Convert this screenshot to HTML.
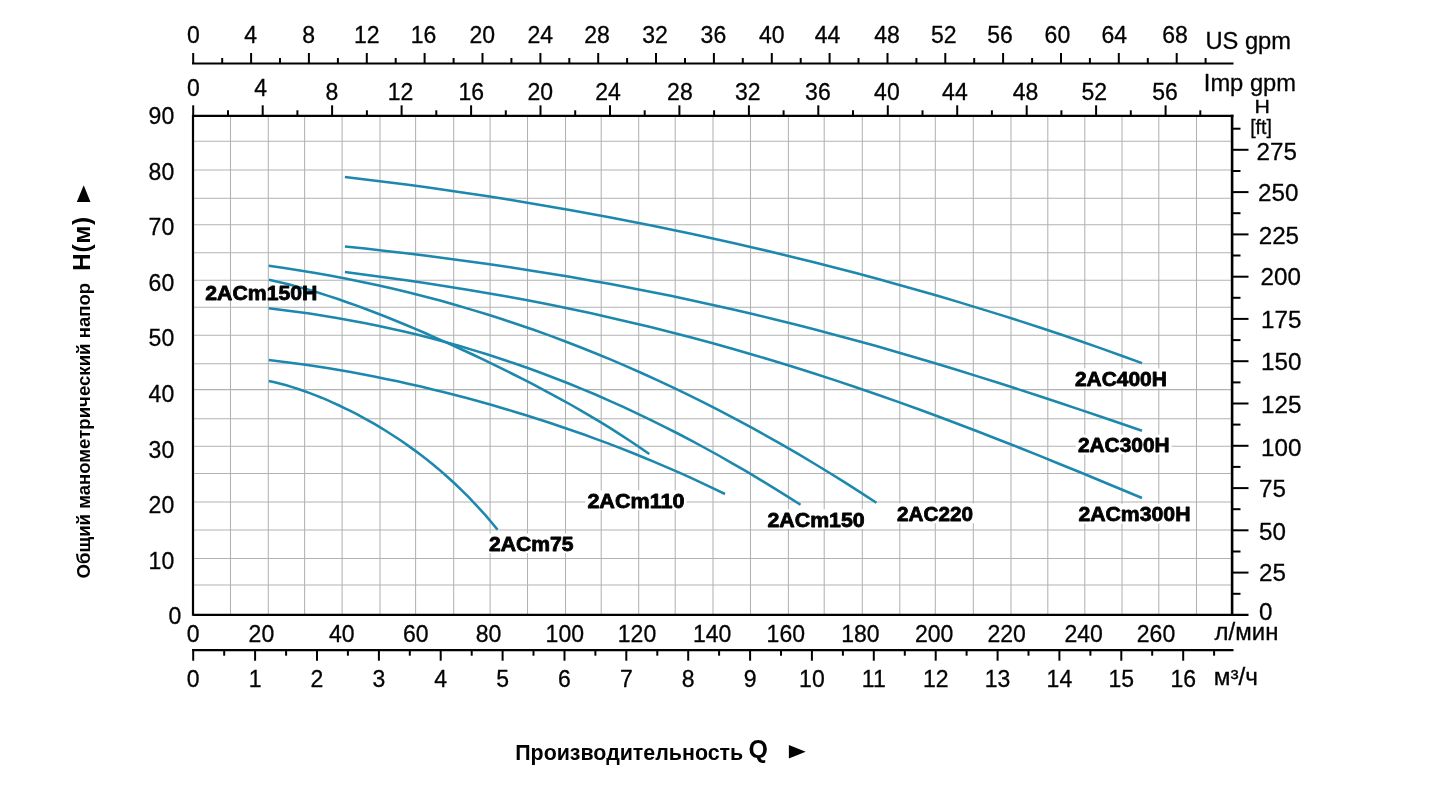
<!DOCTYPE html>
<html lang="ru"><head><meta charset="utf-8"><title>Pump curves</title>
<style>html,body{margin:0;padding:0;background:#fff}body{width:1445px;height:786px;overflow:hidden}svg{display:block}</style>
</head><body>
<svg width="1445" height="786" viewBox="0 0 1445 786">
<rect width="1445" height="786" fill="#fff"/>
<g stroke="#b2b2b2" stroke-width="1.05" fill="none">
<line x1="230.5" y1="115.8" x2="230.5" y2="614.8"/>
<line x1="268.3" y1="115.8" x2="268.3" y2="614.8"/>
<line x1="304.6" y1="115.8" x2="304.6" y2="614.8"/>
<line x1="342.1" y1="115.8" x2="342.1" y2="614.8"/>
<line x1="380" y1="115.8" x2="380" y2="614.8"/>
<line x1="415.6" y1="115.8" x2="415.6" y2="614.8"/>
<line x1="453.7" y1="115.8" x2="453.7" y2="614.8"/>
<line x1="490.1" y1="115.8" x2="490.1" y2="614.8"/>
<line x1="527.5" y1="115.8" x2="527.5" y2="614.8"/>
<line x1="565.5" y1="115.8" x2="565.5" y2="614.8"/>
<line x1="601.2" y1="115.8" x2="601.2" y2="614.8"/>
<line x1="638.7" y1="115.8" x2="638.7" y2="614.8"/>
<line x1="675.2" y1="115.8" x2="675.2" y2="614.8"/>
<line x1="713" y1="115.8" x2="713" y2="614.8"/>
<line x1="750.5" y1="115.8" x2="750.5" y2="614.8"/>
<line x1="788.4" y1="115.8" x2="788.4" y2="614.8"/>
<line x1="824.2" y1="115.8" x2="824.2" y2="614.8"/>
<line x1="862.3" y1="115.8" x2="862.3" y2="614.8"/>
<line x1="899.8" y1="115.8" x2="899.8" y2="614.8"/>
<line x1="935.3" y1="115.8" x2="935.3" y2="614.8"/>
<line x1="973.3" y1="115.8" x2="973.3" y2="614.8"/>
<line x1="1011" y1="115.8" x2="1011" y2="614.8"/>
<line x1="1047.8" y1="115.8" x2="1047.8" y2="614.8"/>
<line x1="1084.8" y1="115.8" x2="1084.8" y2="614.8"/>
<line x1="1122" y1="115.8" x2="1122" y2="614.8"/>
<line x1="1158.8" y1="115.8" x2="1158.8" y2="614.8"/>
<line x1="1196.5" y1="115.8" x2="1196.5" y2="614.8"/>
<line x1="193.0" y1="141.3" x2="1232.1" y2="141.3"/>
<line x1="193.0" y1="170" x2="1232.1" y2="170"/>
<line x1="193.0" y1="198.2" x2="1232.1" y2="198.2"/>
<line x1="193.0" y1="224.8" x2="1232.1" y2="224.8"/>
<line x1="193.0" y1="252.7" x2="1232.1" y2="252.7"/>
<line x1="193.0" y1="280.2" x2="1232.1" y2="280.2"/>
<line x1="193.0" y1="307.3" x2="1232.1" y2="307.3"/>
<line x1="193.0" y1="335.3" x2="1232.1" y2="335.3"/>
<line x1="193.0" y1="363.7" x2="1232.1" y2="363.7"/>
<line x1="193.0" y1="389.6" x2="1232.1" y2="389.6"/>
<line x1="193.0" y1="418.8" x2="1232.1" y2="418.8"/>
<line x1="193.0" y1="446.3" x2="1232.1" y2="446.3"/>
<line x1="193.0" y1="473.5" x2="1232.1" y2="473.5"/>
<line x1="193.0" y1="502" x2="1232.1" y2="502"/>
<line x1="193.0" y1="530" x2="1232.1" y2="530"/>
<line x1="193.0" y1="558.5" x2="1232.1" y2="558.5"/>
<line x1="193.0" y1="584.9" x2="1232.1" y2="584.9"/>
</g>
<g stroke="#1d88ad" stroke-width="2.55" fill="none" stroke-linecap="butt">
<path d="M344.9,177.1 L365.3,179.5 L385.8,182.0 L406.2,184.6 L426.7,187.3 L447.1,190.2 L467.5,193.2 L488.0,196.3 L508.4,199.5 L528.8,202.9 L549.3,206.4 L569.7,210.0 L590.2,213.7 L610.6,217.5 L631.0,221.4 L651.5,225.5 L671.9,229.7 L692.4,234.0 L712.8,238.5 L733.2,243.0 L753.7,247.7 L774.1,252.5 L794.5,257.5 L815.0,262.6 L835.4,267.8 L855.9,273.1 L876.3,278.6 L896.7,284.2 L917.2,289.9 L937.6,295.8 L958.1,301.9 L978.5,308.1 L998.9,314.4 L1019.4,320.9 L1039.8,327.5 L1060.2,334.3 L1080.7,341.3 L1101.1,348.4 L1121.6,355.7 L1142.0,363.1"/>
<path d="M344.9,246.4 L365.3,248.6 L385.8,250.9 L406.2,253.3 L426.7,255.8 L447.1,258.5 L467.5,261.2 L488.0,264.1 L508.4,267.0 L528.8,270.2 L549.3,273.4 L569.7,276.8 L590.2,280.4 L610.6,284.1 L631.0,287.9 L651.5,291.9 L671.9,296.1 L692.4,300.4 L712.8,304.9 L733.2,309.5 L753.7,314.3 L774.1,319.2 L794.5,324.3 L815.0,329.5 L835.4,334.9 L855.9,340.5 L876.3,346.1 L896.7,352.0 L917.2,357.9 L937.6,364.0 L958.1,370.2 L978.5,376.6 L998.9,383.0 L1019.4,389.6 L1039.8,396.3 L1060.2,403.0 L1080.7,409.9 L1101.1,416.8 L1121.6,423.8 L1142.0,430.8"/>
<path d="M344.9,272.0 L365.3,274.7 L385.8,277.4 L406.2,280.3 L426.7,283.3 L447.1,286.5 L467.5,289.8 L488.0,293.2 L508.4,296.8 L528.8,300.6 L549.3,304.6 L569.7,308.8 L590.2,313.1 L610.6,317.7 L631.0,322.4 L651.5,327.3 L671.9,332.4 L692.4,337.7 L712.8,343.2 L733.2,349.0 L753.7,354.9 L774.1,361.0 L794.5,367.2 L815.0,373.7 L835.4,380.4 L855.9,387.2 L876.3,394.2 L896.7,401.4 L917.2,408.8 L937.6,416.3 L958.1,424.0 L978.5,431.8 L998.9,439.7 L1019.4,447.7 L1039.8,455.9 L1060.2,464.2 L1080.7,472.5 L1101.1,481.0 L1121.6,489.5 L1142.0,498.0"/>
<path d="M268.7,265.8 L284.3,268.0 L299.9,270.4 L315.4,273.0 L331.0,275.8 L346.6,278.7 L362.2,281.9 L377.8,285.3 L393.4,288.8 L408.9,292.6 L424.5,296.5 L440.1,300.6 L455.7,305.0 L471.3,309.6 L486.8,314.3 L502.4,319.3 L518.0,324.5 L533.6,329.8 L549.2,335.4 L564.8,341.2 L580.3,347.3 L595.9,353.5 L611.5,359.9 L627.1,366.6 L642.7,373.5 L658.3,380.6 L673.8,387.9 L689.4,395.4 L705.0,403.2 L720.6,411.1 L736.2,419.3 L751.7,427.7 L767.3,436.3 L782.9,445.2 L798.5,454.2 L814.1,463.5 L829.7,473.0 L845.2,482.7 L860.8,492.6 L876.4,502.7"/>
<path d="M268.9,279.8 L278.7,282.0 L288.4,284.3 L298.2,286.9 L307.9,289.6 L317.7,292.5 L327.4,295.6 L337.2,298.8 L346.9,302.2 L356.7,305.6 L366.4,309.3 L376.2,313.0 L385.9,316.8 L395.7,320.7 L405.5,324.7 L415.2,328.8 L425.0,333.0 L434.7,337.3 L444.5,341.6 L454.2,346.0 L464.0,350.5 L473.7,355.0 L483.5,359.7 L493.2,364.4 L503.0,369.1 L512.7,374.0 L522.5,378.9 L532.3,383.9 L542.0,389.1 L551.8,394.3 L561.5,399.6 L571.3,405.0 L581.0,410.6 L590.8,416.3 L600.5,422.2 L610.3,428.2 L620.0,434.3 L629.8,440.7 L639.5,447.2 L649.3,454.0"/>
<path d="M268.7,308.2 L282.3,309.9 L296.0,311.7 L309.6,313.6 L323.2,315.7 L336.9,318.0 L350.5,320.4 L364.2,323.0 L377.8,325.8 L391.4,328.7 L405.1,331.8 L418.7,335.1 L432.3,338.6 L446.0,342.2 L459.6,346.1 L473.2,350.1 L486.9,354.3 L500.5,358.7 L514.1,363.3 L527.8,368.0 L541.4,373.0 L555.1,378.2 L568.7,383.5 L582.3,389.1 L596.0,394.8 L609.6,400.8 L623.2,406.9 L636.9,413.3 L650.5,419.8 L664.1,426.6 L677.8,433.5 L691.4,440.7 L705.0,448.0 L718.7,455.5 L732.3,463.3 L746.0,471.2 L759.6,479.3 L773.2,487.6 L786.9,496.1 L800.5,504.8"/>
<path d="M268.8,360.1 L280.5,361.5 L292.2,362.9 L303.9,364.5 L315.6,366.2 L327.3,368.1 L339.0,370.0 L350.7,372.1 L362.4,374.2 L374.1,376.5 L385.8,378.9 L397.5,381.3 L409.2,383.9 L420.9,386.6 L432.6,389.4 L444.3,392.2 L456.0,395.2 L467.7,398.3 L479.4,401.5 L491.1,404.8 L502.7,408.2 L514.4,411.7 L526.1,415.3 L537.8,419.0 L549.5,422.8 L561.2,426.7 L572.9,430.7 L584.6,434.8 L596.3,439.1 L608.0,443.4 L619.7,447.9 L631.4,452.5 L643.1,457.2 L654.8,462.1 L666.5,467.1 L678.2,472.2 L689.9,477.4 L701.6,482.8 L713.3,488.3 L725.0,494.0"/>
<path d="M268.8,380.9 L274.7,382.2 L280.5,383.7 L286.4,385.3 L292.3,387.1 L298.1,389.0 L304.0,391.0 L309.8,393.1 L315.7,395.4 L321.6,397.7 L327.4,400.2 L333.3,402.8 L339.2,405.5 L345.0,408.3 L350.9,411.2 L356.8,414.2 L362.6,417.3 L368.5,420.6 L374.4,423.9 L380.2,427.4 L386.1,431.0 L391.9,434.7 L397.8,438.5 L403.7,442.5 L409.5,446.6 L415.4,450.9 L421.3,455.3 L427.1,459.8 L433.0,464.5 L438.9,469.4 L444.7,474.5 L450.6,479.7 L456.5,485.2 L462.3,490.8 L468.2,496.7 L474.0,502.8 L479.9,509.1 L485.8,515.7 L491.6,522.5 L497.5,529.6"/>
</g>
<g stroke="#000" fill="none">
<line x1="193.0" y1="114.8" x2="193.0" y2="615.8" stroke-width="2.2"/>
<line x1="193.0" y1="115.8" x2="1233.5" y2="115.8" stroke-width="2.2"/>
<line x1="193.0" y1="614.8" x2="1248.5" y2="614.8" stroke-width="2.2"/>
<line x1="1232.1" y1="114.8" x2="1232.1" y2="615.8" stroke-width="2.6"/>
<line x1="192" y1="63.5" x2="1233.5" y2="63.5" stroke-width="2.2"/>
<line x1="192" y1="650.2" x2="1233.5" y2="650.2" stroke-width="2.2"/>
</g>
<g stroke="#000" stroke-width="2" fill="none">
<line x1="193.2" y1="53.0" x2="193.2" y2="63.5"/>
<line x1="222.2" y1="58.0" x2="222.2" y2="63.5"/>
<line x1="251.1" y1="53.0" x2="251.1" y2="63.5"/>
<line x1="280.0" y1="58.0" x2="280.0" y2="63.5"/>
<line x1="308.9" y1="53.0" x2="308.9" y2="63.5"/>
<line x1="337.9" y1="58.0" x2="337.9" y2="63.5"/>
<line x1="366.8" y1="53.0" x2="366.8" y2="63.5"/>
<line x1="395.7" y1="58.0" x2="395.7" y2="63.5"/>
<line x1="424.6" y1="53.0" x2="424.6" y2="63.5"/>
<line x1="453.6" y1="58.0" x2="453.6" y2="63.5"/>
<line x1="482.5" y1="53.0" x2="482.5" y2="63.5"/>
<line x1="511.4" y1="58.0" x2="511.4" y2="63.5"/>
<line x1="540.4" y1="53.0" x2="540.4" y2="63.5"/>
<line x1="569.3" y1="58.0" x2="569.3" y2="63.5"/>
<line x1="598.2" y1="53.0" x2="598.2" y2="63.5"/>
<line x1="627.1" y1="58.0" x2="627.1" y2="63.5"/>
<line x1="656.0" y1="53.0" x2="656.0" y2="63.5"/>
<line x1="685.0" y1="58.0" x2="685.0" y2="63.5"/>
<line x1="713.9" y1="53.0" x2="713.9" y2="63.5"/>
<line x1="742.8" y1="58.0" x2="742.8" y2="63.5"/>
<line x1="771.8" y1="53.0" x2="771.8" y2="63.5"/>
<line x1="800.7" y1="58.0" x2="800.7" y2="63.5"/>
<line x1="829.6" y1="53.0" x2="829.6" y2="63.5"/>
<line x1="858.5" y1="58.0" x2="858.5" y2="63.5"/>
<line x1="887.5" y1="53.0" x2="887.5" y2="63.5"/>
<line x1="916.4" y1="58.0" x2="916.4" y2="63.5"/>
<line x1="945.3" y1="53.0" x2="945.3" y2="63.5"/>
<line x1="974.2" y1="58.0" x2="974.2" y2="63.5"/>
<line x1="1003.1" y1="53.0" x2="1003.1" y2="63.5"/>
<line x1="1032.1" y1="58.0" x2="1032.1" y2="63.5"/>
<line x1="1061.0" y1="53.0" x2="1061.0" y2="63.5"/>
<line x1="1089.9" y1="58.0" x2="1089.9" y2="63.5"/>
<line x1="1118.8" y1="53.0" x2="1118.8" y2="63.5"/>
<line x1="1147.8" y1="58.0" x2="1147.8" y2="63.5"/>
<line x1="1176.7" y1="53.0" x2="1176.7" y2="63.5"/>
<line x1="1205.6" y1="58.0" x2="1205.6" y2="63.5"/>
<line x1="193.2" y1="105.3" x2="193.2" y2="115.8"/>
<line x1="228.0" y1="110.3" x2="228.0" y2="115.8"/>
<line x1="262.7" y1="105.3" x2="262.7" y2="115.8"/>
<line x1="297.4" y1="110.3" x2="297.4" y2="115.8"/>
<line x1="332.1" y1="105.3" x2="332.1" y2="115.8"/>
<line x1="366.9" y1="110.3" x2="366.9" y2="115.8"/>
<line x1="401.6" y1="105.3" x2="401.6" y2="115.8"/>
<line x1="436.3" y1="110.3" x2="436.3" y2="115.8"/>
<line x1="471.1" y1="105.3" x2="471.1" y2="115.8"/>
<line x1="505.8" y1="110.3" x2="505.8" y2="115.8"/>
<line x1="540.5" y1="105.3" x2="540.5" y2="115.8"/>
<line x1="575.2" y1="110.3" x2="575.2" y2="115.8"/>
<line x1="610.0" y1="105.3" x2="610.0" y2="115.8"/>
<line x1="644.7" y1="110.3" x2="644.7" y2="115.8"/>
<line x1="679.4" y1="105.3" x2="679.4" y2="115.8"/>
<line x1="714.1" y1="110.3" x2="714.1" y2="115.8"/>
<line x1="748.9" y1="105.3" x2="748.9" y2="115.8"/>
<line x1="783.6" y1="110.3" x2="783.6" y2="115.8"/>
<line x1="818.3" y1="105.3" x2="818.3" y2="115.8"/>
<line x1="853.0" y1="110.3" x2="853.0" y2="115.8"/>
<line x1="887.8" y1="105.3" x2="887.8" y2="115.8"/>
<line x1="922.5" y1="110.3" x2="922.5" y2="115.8"/>
<line x1="957.2" y1="105.3" x2="957.2" y2="115.8"/>
<line x1="991.9" y1="110.3" x2="991.9" y2="115.8"/>
<line x1="1026.7" y1="105.3" x2="1026.7" y2="115.8"/>
<line x1="1061.4" y1="110.3" x2="1061.4" y2="115.8"/>
<line x1="1096.1" y1="105.3" x2="1096.1" y2="115.8"/>
<line x1="1130.8" y1="110.3" x2="1130.8" y2="115.8"/>
<line x1="1165.6" y1="105.3" x2="1165.6" y2="115.8"/>
<line x1="1200.3" y1="110.3" x2="1200.3" y2="115.8"/>
<line x1="193.2" y1="650.2" x2="193.2" y2="660.7"/>
<line x1="224.2" y1="650.2" x2="224.2" y2="655.7"/>
<line x1="255.1" y1="650.2" x2="255.1" y2="660.7"/>
<line x1="286.1" y1="650.2" x2="286.1" y2="655.7"/>
<line x1="317.0" y1="650.2" x2="317.0" y2="660.7"/>
<line x1="347.9" y1="650.2" x2="347.9" y2="655.7"/>
<line x1="378.9" y1="650.2" x2="378.9" y2="660.7"/>
<line x1="409.8" y1="650.2" x2="409.8" y2="655.7"/>
<line x1="440.7" y1="650.2" x2="440.7" y2="660.7"/>
<line x1="471.7" y1="650.2" x2="471.7" y2="655.7"/>
<line x1="502.6" y1="650.2" x2="502.6" y2="660.7"/>
<line x1="533.5" y1="650.2" x2="533.5" y2="655.7"/>
<line x1="564.5" y1="650.2" x2="564.5" y2="660.7"/>
<line x1="595.4" y1="650.2" x2="595.4" y2="655.7"/>
<line x1="626.3" y1="650.2" x2="626.3" y2="660.7"/>
<line x1="657.3" y1="650.2" x2="657.3" y2="655.7"/>
<line x1="688.2" y1="650.2" x2="688.2" y2="660.7"/>
<line x1="719.1" y1="650.2" x2="719.1" y2="655.7"/>
<line x1="750.1" y1="650.2" x2="750.1" y2="660.7"/>
<line x1="781.0" y1="650.2" x2="781.0" y2="655.7"/>
<line x1="811.9" y1="650.2" x2="811.9" y2="660.7"/>
<line x1="842.9" y1="650.2" x2="842.9" y2="655.7"/>
<line x1="873.8" y1="650.2" x2="873.8" y2="660.7"/>
<line x1="904.8" y1="650.2" x2="904.8" y2="655.7"/>
<line x1="935.7" y1="650.2" x2="935.7" y2="660.7"/>
<line x1="966.6" y1="650.2" x2="966.6" y2="655.7"/>
<line x1="997.6" y1="650.2" x2="997.6" y2="660.7"/>
<line x1="1028.5" y1="650.2" x2="1028.5" y2="655.7"/>
<line x1="1059.4" y1="650.2" x2="1059.4" y2="660.7"/>
<line x1="1090.4" y1="650.2" x2="1090.4" y2="655.7"/>
<line x1="1121.3" y1="650.2" x2="1121.3" y2="660.7"/>
<line x1="1152.2" y1="650.2" x2="1152.2" y2="655.7"/>
<line x1="1183.2" y1="650.2" x2="1183.2" y2="660.7"/>
<line x1="1214.1" y1="650.2" x2="1214.1" y2="655.7"/>
<line x1="1233" y1="593.8" x2="1240.5" y2="593.8"/>
<line x1="1233" y1="572.6" x2="1248.5" y2="572.6"/>
<line x1="1233" y1="551.5" x2="1240.5" y2="551.5"/>
<line x1="1233" y1="530.3" x2="1248.5" y2="530.3"/>
<line x1="1233" y1="509.2" x2="1240.5" y2="509.2"/>
<line x1="1233" y1="488.1" x2="1248.5" y2="488.1"/>
<line x1="1233" y1="466.9" x2="1240.5" y2="466.9"/>
<line x1="1233" y1="445.8" x2="1248.5" y2="445.8"/>
<line x1="1233" y1="424.6" x2="1240.5" y2="424.6"/>
<line x1="1233" y1="403.5" x2="1248.5" y2="403.5"/>
<line x1="1233" y1="382.4" x2="1240.5" y2="382.4"/>
<line x1="1233" y1="361.2" x2="1248.5" y2="361.2"/>
<line x1="1233" y1="340.1" x2="1240.5" y2="340.1"/>
<line x1="1233" y1="318.9" x2="1248.5" y2="318.9"/>
<line x1="1233" y1="297.8" x2="1240.5" y2="297.8"/>
<line x1="1233" y1="276.7" x2="1248.5" y2="276.7"/>
<line x1="1233" y1="255.5" x2="1240.5" y2="255.5"/>
<line x1="1233" y1="234.4" x2="1248.5" y2="234.4"/>
<line x1="1233" y1="213.2" x2="1240.5" y2="213.2"/>
<line x1="1233" y1="192.1" x2="1248.5" y2="192.1"/>
<line x1="1233" y1="171.0" x2="1240.5" y2="171.0"/>
<line x1="1233" y1="149.8" x2="1248.5" y2="149.8"/>
<line x1="1233" y1="128.7" x2="1240.5" y2="128.7"/>
</g>
<g font-family="'Liberation Sans', Arial, sans-serif" fill="#000" opacity="0.995">
<g stroke="#000" stroke-width="0.3">
<g font-size="23" text-anchor="middle">
<text x="193.4" y="43">0</text>
<text x="250.7" y="43">4</text>
<text x="308.7" y="43">8</text>
<text x="366.8" y="43">12</text>
<text x="423.5" y="43">16</text>
<text x="482.2" y="43">20</text>
<text x="540.2" y="43">24</text>
<text x="597.1" y="43">28</text>
<text x="655.1" y="43">32</text>
<text x="713.4" y="43">36</text>
<text x="771.7" y="43">40</text>
<text x="827.5" y="43">44</text>
<text x="887" y="43">48</text>
<text x="943.7" y="43">52</text>
<text x="1000.1" y="43">56</text>
<text x="1057.4" y="43">60</text>
<text x="1114.3" y="43">64</text>
<text x="1175" y="43">68</text>
<text x="193.4" y="96.2">0</text>
<text x="260.7" y="96.2">4</text>
<text x="331.8" y="99.5">8</text>
<text x="400.5" y="99.5">12</text>
<text x="471.3" y="99.5">16</text>
<text x="540.2" y="99.5">20</text>
<text x="608.1" y="99.5">24</text>
<text x="679.9" y="99.5">28</text>
<text x="747.8" y="99.5">32</text>
<text x="817.9" y="99.5">36</text>
<text x="886.9" y="99.5">40</text>
<text x="954.9" y="99.5">44</text>
<text x="1025.6" y="99.5">48</text>
<text x="1094.2" y="99.5">52</text>
<text x="1165" y="99.5">56</text>
<text x="193.2" y="642">0</text>
<text x="261.4" y="642">20</text>
<text x="341.8" y="642">40</text>
<text x="415.8" y="642">60</text>
<text x="488.5" y="642">80</text>
<text x="564.8" y="642">100</text>
<text x="637" y="642">120</text>
<text x="712.1" y="642">140</text>
<text x="785.8" y="642">160</text>
<text x="860.4" y="642">180</text>
<text x="934.1" y="642">200</text>
<text x="1006.7" y="642">220</text>
<text x="1083.6" y="642">240</text>
<text x="1156" y="642">260</text>
<text x="193.2" y="686.5">0</text>
<text x="255.1" y="686.5">1</text>
<text x="317.0" y="686.5">2</text>
<text x="378.9" y="686.5">3</text>
<text x="440.7" y="686.5">4</text>
<text x="502.6" y="686.5">5</text>
<text x="564.5" y="686.5">6</text>
<text x="626.3" y="686.5">7</text>
<text x="688.2" y="686.5">8</text>
<text x="750.1" y="686.5">9</text>
<text x="811.9" y="686.5">10</text>
<text x="873.8" y="686.5">11</text>
<text x="935.7" y="686.5">12</text>
<text x="997.6" y="686.5">13</text>
<text x="1059.4" y="686.5">14</text>
<text x="1121.3" y="686.5">15</text>
<text x="1183.2" y="686.5">16</text>
</g>
<g font-size="23" text-anchor="end">
<text x="174.2" y="124.2">90</text>
<text x="174.2" y="179.8">80</text>
<text x="174.2" y="235.3">70</text>
<text x="174.2" y="290.9">60</text>
<text x="174.2" y="346.4">50</text>
<text x="174.2" y="402.0">40</text>
<text x="174.2" y="457.5">30</text>
<text x="174.2" y="513.1">20</text>
<text x="174.2" y="568.6">10</text>
<text x="181.2" y="624.2">0</text>
</g>
<g font-size="24.2">
<text x="1256.6" y="159.7">275</text>
<text x="1258" y="201.0">250</text>
<text x="1258.7" y="243.6">225</text>
<text x="1260.5" y="285.4">200</text>
<text x="1261" y="327.6">175</text>
<text x="1261" y="370.1">150</text>
<text x="1261" y="412.8">125</text>
<text x="1261" y="455.5">100</text>
<text x="1259" y="497.3">75</text>
<text x="1259" y="540">50</text>
<text x="1259" y="580.8">25</text>
<text x="1258.9" y="619.5">0</text>
</g>
<g font-size="23">
<text x="1205.4" y="48.7" textLength="85.6" lengthAdjust="spacingAndGlyphs">US gpm</text>
<text x="1203.8" y="91" textLength="92.2" lengthAdjust="spacingAndGlyphs">Imp gpm</text>
<text x="1214.6" y="640.2" textLength="63.8" lengthAdjust="spacingAndGlyphs">л/мин</text>
<text x="1213.7" y="685" textLength="44.2" lengthAdjust="spacingAndGlyphs">м³/ч</text>
</g>
<text x="1254.4" y="113.2" font-size="17.8" textLength="15.4" lengthAdjust="spacingAndGlyphs">H</text>
<text x="1250.2" y="133.5" font-size="19.5">[ft]</text>
</g>
<rect x="486.9" y="533.5" width="88.80000000000007" height="19.8" fill="#fff"/>
<rect x="585.3" y="490.4" width="101.20000000000005" height="19.8" fill="#fff"/>
<rect x="765.4" y="509.2" width="101.39999999999998" height="19.8" fill="#fff"/>
<rect x="895.0" y="503.40000000000003" width="80.10000000000002" height="19.8" fill="#fff"/>
<rect x="1072.8" y="368.4" width="96.20000000000005" height="19.8" fill="#fff"/>
<rect x="1075.8" y="434.59999999999997" width="95.90000000000009" height="19.8" fill="#fff"/>
<rect x="1076.3" y="503.8" width="116.29999999999995" height="19.8" fill="#fff"/>
<text x="205.29999999999998" y="299.8" font-size="20" font-weight="bold" textLength="112.1" lengthAdjust="spacingAndGlyphs" stroke="#000" stroke-width="0.8" stroke-linejoin="round">2ACm150H</text>
<text x="489.0" y="550.8" font-size="20" font-weight="bold" textLength="84.6" lengthAdjust="spacingAndGlyphs" stroke="#000" stroke-width="0.8" stroke-linejoin="round">2ACm75</text>
<text x="587.4" y="507.7" font-size="20" font-weight="bold" textLength="97.0" lengthAdjust="spacingAndGlyphs" stroke="#000" stroke-width="0.8" stroke-linejoin="round">2ACm110</text>
<text x="767.5" y="526.5" font-size="20" font-weight="bold" textLength="97.2" lengthAdjust="spacingAndGlyphs" stroke="#000" stroke-width="0.8" stroke-linejoin="round">2ACm150</text>
<text x="897.1" y="520.7" font-size="20" font-weight="bold" textLength="75.9" lengthAdjust="spacingAndGlyphs" stroke="#000" stroke-width="0.8" stroke-linejoin="round">2AC220</text>
<text x="1074.8999999999999" y="385.7" font-size="20" font-weight="bold" textLength="92.0" lengthAdjust="spacingAndGlyphs" stroke="#000" stroke-width="0.8" stroke-linejoin="round">2AC400H</text>
<text x="1077.8999999999999" y="451.9" font-size="20" font-weight="bold" textLength="91.7" lengthAdjust="spacingAndGlyphs" stroke="#000" stroke-width="0.8" stroke-linejoin="round">2AC300H</text>
<text x="1078.3999999999999" y="521.1" font-size="20" font-weight="bold" textLength="112.1" lengthAdjust="spacingAndGlyphs" stroke="#000" stroke-width="0.8" stroke-linejoin="round">2ACm300H</text>
<text transform="translate(90.3,578.5) rotate(-90)" font-size="18.6" font-weight="bold">Общий манометрический напор</text>
<text transform="translate(90.1,271) rotate(-90)" font-size="24.5" font-weight="bold" letter-spacing="0.7">H(м)</text>
<polygon points="83.7,185.3 76.8,202 90.5,202"/>
<text x="515.2" y="759.5" font-size="21.4" font-weight="bold">Производительность</text>
<text x="748.4" y="758.3" font-size="25" font-weight="bold">Q</text>
<polygon points="788.9,745 805.7,751.7 788.9,758.4"/>
</g>
</svg>
</body></html>
